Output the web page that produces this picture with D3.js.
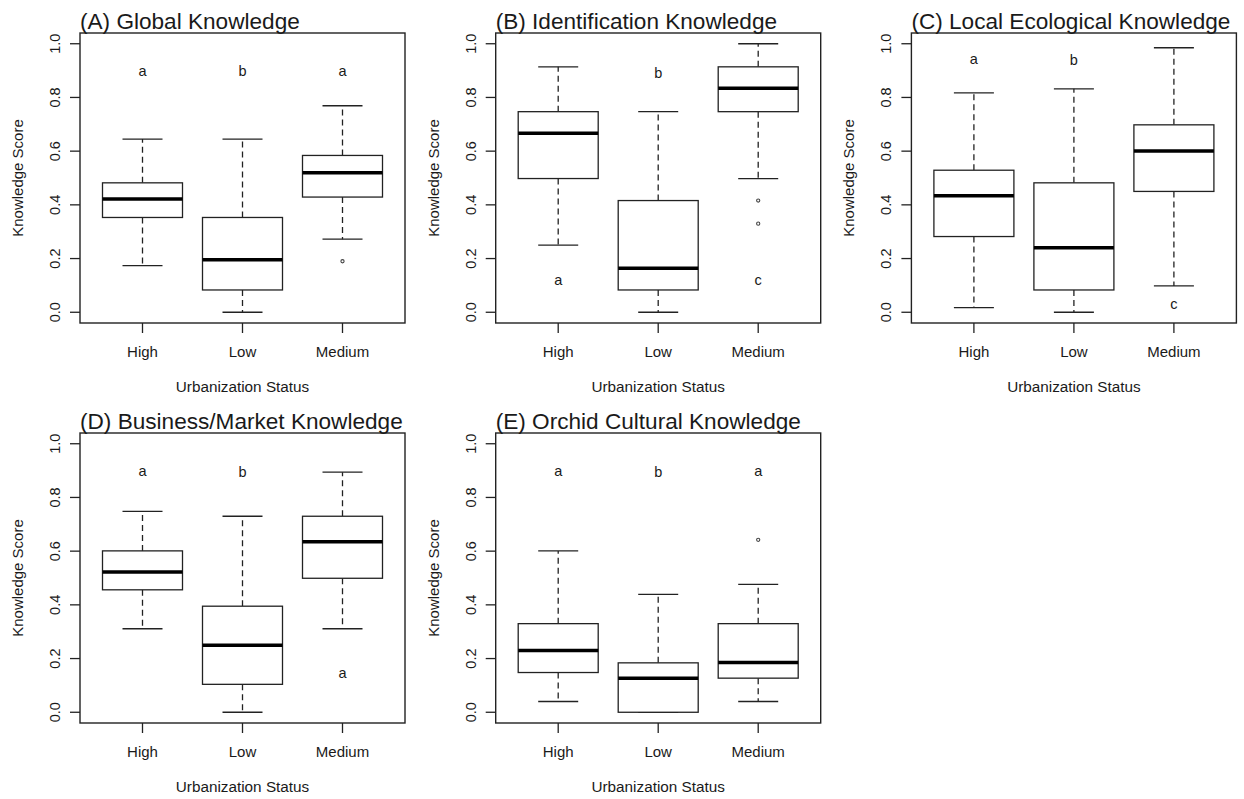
<!DOCTYPE html>
<html>
<head>
<meta charset="utf-8">
<script src="https://cdn.jsdelivr.net/npm/d3@7"></script>
<style>
  body { margin: 0; background: #fff; }
  text { font-family: Arial, "Liberation Sans", sans-serif; fill: #1a1a1a; }
</style>
</head>
<body>
<div id="chart"></div>
<script>
// groups on the x axis
var categories = ["High", "Low", "Medium"];

// panel titles
var titles = ["(A) Global Knowledge", "(B) Identification Knowledge", "(C) Local Ecological Knowledge",
  "(D) Business/Market Knowledge", "(E) Orchid Cultural Knowledge"];

// box stats per group: [lower whisker, Q1, median, Q3, upper whisker]
var globalStats = [[0.174, 0.353, 0.422, 0.482, 0.645], [0, 0.083, 0.196, 0.353, 0.645], [0.272, 0.429, 0.520, 0.584, 0.769]];
var identStats = [[0.250, 0.498, 0.667, 0.747, 0.914], [0, 0.083, 0.164, 0.416, 0.747], [0.498, 0.747, 0.834, 0.914, 1.0]];
var localStats = [[0.017, 0.282, 0.434, 0.529, 0.817], [0, 0.083, 0.240, 0.482, 0.832], [0.098, 0.450, 0.601, 0.698, 0.985]];
var businessStats = [[0.311, 0.456, 0.522, 0.601, 0.748], [0, 0.104, 0.250, 0.395, 0.730], [0.311, 0.499, 0.635, 0.730, 0.894]];
var orchidStats = [[0.040, 0.148, 0.230, 0.330, 0.601], [0, 0, 0.127, 0.184, 0.439], [0.040, 0.127, 0.185, 0.330, 0.476]];

// outliers per group
var globalOut = [[], [], [0.190]];
var identOut = [[], [], [0.416, 0.330]];
var localOut = [[], [], []];
var businessOut = [[], [], []];
var orchidOut = [[], [], [0.642]];

// significance letters: [letter, y position] per group
var globalLetters = [["a", 0.90], ["b", 0.90], ["a", 0.90]];
var identLetters = [["a", 0.12], ["b", 0.89], ["c", 0.12]];
var localLetters = [["a", 0.945], ["b", 0.94], ["c", 0.03]];
var businessLetters = [["a", 0.90], ["b", 0.895], ["a", 0.145]];
var orchidLetters = [["a", 0.90], ["b", 0.895], ["a", 0.90]];

var yTicks = [0, 0.2, 0.4, 0.6, 0.8, 1.0];

var panels = [
  {title: titles[0], stats: globalStats, out: globalOut, letters: globalLetters},
  {title: titles[1], stats: identStats, out: identOut, letters: identLetters},
  {title: titles[2], stats: localStats, out: localOut, letters: localLetters},
  {title: titles[3], stats: businessStats, out: businessOut, letters: businessLetters},
  {title: titles[4], stats: orchidStats, out: orchidOut, letters: orchidLetters}
];

var svg = d3.select("#chart").append("svg").attr("width", 1244).attr("height", 799),
  pw = 415.7, ph = 400,
  margin = {top: 33, right: 10, bottom: 77, left: 80},
  width = 325,
  height = 290,
  ink = "#222";

var x = d3.scalePoint().domain(categories).range([0, width]).padding(0.625);
var y = d3.scaleLinear().domain([-0.04, 1.04]).range([height, 0]);
var boxW = x.step() * 0.8;

panels.forEach(function (p, i) {
  var col = i % 3, row = Math.floor(i / 3);
  var g = svg.append("g")
    .attr("transform", "translate(" + (col * pw + margin.left) + "," + (row * ph + margin.top) + ")");

  // groups
  p.stats.forEach(function (s, j) {
    var cx = x(categories[j]);
    // whiskers
    g.append("line").attr("x1", cx).attr("x2", cx).attr("y1", y(s[3])).attr("y2", y(s[4]))
      .attr("stroke", ink).attr("stroke-width", 1.3).attr("stroke-dasharray", "6,4");
    g.append("line").attr("x1", cx).attr("x2", cx).attr("y1", y(s[1])).attr("y2", y(s[0]))
      .attr("stroke", ink).attr("stroke-width", 1.3).attr("stroke-dasharray", "6,4");
    // caps
    [s[0], s[4]].forEach(function (v) {
      g.append("line").attr("x1", cx - boxW / 4).attr("x2", cx + boxW / 4).attr("y1", y(v)).attr("y2", y(v))
        .attr("stroke", ink).attr("stroke-width", 1.3);
    });
    // box
    g.append("rect").attr("x", cx - boxW / 2).attr("width", boxW)
      .attr("y", y(s[3])).attr("height", y(s[1]) - y(s[3]))
      .attr("fill", "#fff").attr("stroke", ink).attr("stroke-width", 1.3);
    // median
    g.append("line").attr("x1", cx - boxW / 2).attr("x2", cx + boxW / 2).attr("y1", y(s[2])).attr("y2", y(s[2]))
      .attr("stroke", "#000").attr("stroke-width", 3.5);
    // outliers
    g.selectAll(null).data(p.out[j]).enter().append("circle")
      .attr("cx", cx).attr("cy", function (d) { return y(d); }).attr("r", 1.6)
      .attr("fill", "none").attr("stroke", "#444").attr("stroke-width", 1.1);
    // letters
    g.append("text").attr("x", cx).attr("y", y(p.letters[j][1])).attr("dy", "0.35em")
      .attr("text-anchor", "middle").style("font-size", "14.5px").text(p.letters[j][0]);
  });

  // plot frame
  g.append("rect").attr("x", 0).attr("y", 0).attr("width", width).attr("height", height)
    .attr("fill", "none").attr("stroke", ink).attr("stroke-width", 1.4);

  // y axis
  yTicks.forEach(function (t) {
    g.append("line").attr("x1", -10).attr("x2", 0).attr("y1", y(t)).attr("y2", y(t))
      .attr("stroke", ink).attr("stroke-width", 1.3);
    g.append("text").attr("transform", "translate(-20," + y(t) + ") rotate(-90)")
      .attr("text-anchor", "middle").style("font-size", "14.5px").text(d3.format(".1f")(t));
  });

  // x axis
  categories.forEach(function (c) {
    g.append("line").attr("x1", x(c)).attr("x2", x(c)).attr("y1", height).attr("y2", height + 10)
      .attr("stroke", ink).attr("stroke-width", 1.3);
    g.append("text").attr("x", x(c)).attr("y", height + 34)
      .attr("text-anchor", "middle").style("font-size", "15px").text(c);
  });

  g.append("text").attr("x", width / 2).attr("y", height + 69)
    .attr("text-anchor", "middle").style("font-size", "15.3px").text("Urbanization Status");
  g.append("text").attr("transform", "translate(-57," + (height / 2) + ") rotate(-90)")
    .attr("text-anchor", "middle").style("font-size", "15px").text("Knowledge Score");

  // title
  g.append("text").attr("x", 0).attr("y", -4).style("font-size", "22.6px").text(p.title);
});
</script>
</body>
</html>
